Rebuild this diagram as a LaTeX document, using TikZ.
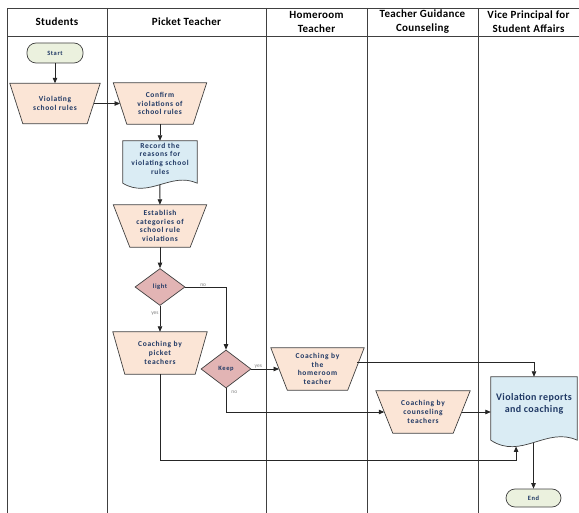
\documentclass[tikz,border=0pt]{standalone}
\usepackage{fontspec}
\setmainfont{Carlito}
\newfontfamily\nodefont[LetterSpace=9]{Carlito}
\newfontfamily\bigfont[LetterSpace=4]{Carlito}
\newfontfamily\hdrfont[LetterSpace=3]{Carlito}
\usetikzlibrary{shapes.geometric,arrows.meta,calc}
\pgfdeclarelayer{bg}
\pgfsetlayers{bg,main}
\definecolor{lane}{RGB}{64,64,64}
\definecolor{navy}{RGB}{31,56,100}
\definecolor{procfill}{RGB}{251,229,214}
\definecolor{docfill}{RGB}{218,236,244}
\definecolor{termfill}{RGB}{235,241,222}
\definecolor{decfill}{RGB}{226,180,180}
\definecolor{lblgray}{RGB}{128,128,128}
\newcommand\drawtrap[2]{%
  \begin{pgfonlayer}{bg}
  \draw[trapshape] ($(#1.north west)+(-#2,0)$) -- ($(#1.north east)+(#2,0)$)
     -- ($(#1.south east)+(-#2,0)$) -- ($(#1.south west)+(#2,0)$) -- cycle;
  \end{pgfonlayer}}
\begin{document}
\begin{tikzpicture}[x=1pt,y=-1pt,
  lanes/.style={draw=lane,line width=0.9pt},
  hdr/.style={font=\hdrfont\fontsize{11}{14}\selectfont\bfseries, align=center, text=black},
  proc/.style={rectangle, draw=none, minimum height=42pt, text=navy,
    font=\nodefont\fontsize{7.5}{8.7}\selectfont\bfseries, align=center, inner sep=0pt},
  trapshape/.style={draw=lane, line width=0.7pt, fill=procfill, line join=miter},
  docbox/.style={rectangle, draw=none, text=navy, font=\nodefont\fontsize{7.5}{8.7}\selectfont\bfseries, align=center, inner sep=0pt},
  docshape/.style={draw=lane, line width=0.7pt, fill=docfill},
  term/.style={rectangle, rounded corners=9pt, minimum width=56pt, minimum height=20pt, draw=lane, line width=0.7pt,
    fill=termfill, text=navy, font=\nodefont\fontsize{6.5}{7}\selectfont\bfseries, inner sep=0pt},
  dec/.style={diamond, minimum width=50pt, minimum height=37pt, inner sep=0pt, draw=lane, line width=0.7pt,
    fill=decfill, text=navy, font=\nodefont\fontsize{6.5}{7}\selectfont\bfseries},
  arr/.style={draw=black!85, line width=0.8pt, -{Triangle[length=5.5pt,width=4.5pt]}},
  lbl/.style={font=\fontsize{5.5}{6}\selectfont, text=lblgray, inner sep=1pt}
]
\useasboundingbox (0,0) rectangle (579,513);
% swimlanes
\draw[lanes] (7,514) -- (7,8) -- (580,8);
\draw[lanes] (7,36) -- (580,36);
\foreach \xx in {107,266,367,478} \draw[lanes] (\xx,8) -- (\xx,514);
\node[hdr] (h1) at (57,22) {Students};
\node[hdr] (h2) at (186.5,22) {Picket Teacher};
\node[hdr] (h3) at (316.5,22) {Homeroom\\Teacher};
\node[hdr] (h4) at (422.5,22) {Teacher Guidance\\Counseling};
\node[hdr] (h5) at (528.5,22) {Vice Principal for\\Student Affairs};
% nodes
\node[term] (start) at (55,53) {Start};
\node[proc, minimum width=77pt, minimum height=40pt] (viol) at (55,103.5) {Violating\\school rules};
\drawtrap{viol}{6.5}
\node[proc, minimum width=79.5pt, minimum height=41pt] (confirm) at (160,103.5) {Confirm\\violations of\\school rules};
\drawtrap{confirm}{6.75}
\node[docbox, minimum width=74pt, minimum height=35pt] (record) at (160,158.5) {Record the\\reasons for\\violating school\\rules};
\begin{pgfonlayer}{bg}
\draw[docshape] (record.north west) -- ($(record.south west)+(0,7)$)
  .. controls ($(record.south west)+(26,23)$) and ($(record.south west)+(48,-5)$) .. ($(record.south east)+(0,7)$)
  coordinate[pos=0.5] (recw) -- (record.north east) -- cycle;
\end{pgfonlayer}
\node[proc, minimum width=76.5pt] (estab) at (160,226) {Establish\\categories of\\school rule\\violations};
\drawtrap{estab}{8.25}
\node[dec] (light) at (160,287) {light};
\node[proc, minimum width=82pt] (picket) at (160,353) {Coaching by\\picket\\teachers};
\drawtrap{picket}{6}
\node[dec, minimum height=38pt] (keep) at (226,369) {Keep};
\node[proc, minimum width=76.5pt] (home) at (317.5,369) {Coaching by\\the\\homeroom\\teacher};
\drawtrap{home}{8.25}
\node[proc, minimum width=77pt] (couns) at (423,412) {Coaching by\\counseling\\teachers};
\drawtrap{couns}{8.5}
\node[docbox, minimum width=86pt, minimum height=54pt, font=\bigfont\fontsize{10}{12}\selectfont\bfseries] (report) at (534,404) {Violation reports\\and coaching};
\begin{pgfonlayer}{bg}
\draw[docshape] (report.north west) -- ($(report.south west)+(0,9)$)
  .. controls ($(report.south west)+(30,29)$) and ($(report.south west)+(56,-5)$) .. ($(report.south east)+(0,9)$)
  coordinate[pos=0.29] (rw1) coordinate[pos=0.49] (rw2) -- (report.north east) -- cycle;
\end{pgfonlayer}
\node[term, minimum width=55pt, minimum height=18pt] (end) at (533.5,498) {End};
\coordinate (lowy) at (0,460);
% connectors
\draw[arr] (start) -- (viol);
\draw[arr] (viol) -- (confirm);
\draw[arr] (confirm) -- (record.north);
\draw[arr] (recw) -- (estab);
\draw[arr] (estab) -- (light);
\draw[arr] (light) -- node[lbl, pos=0.3, left] {yes} (picket);
\draw[arr] (light.east) -| node[lbl, pos=0.22, above, inner sep=0.5pt] {no} (keep.north);
\draw[arr] (keep) -- node[lbl, pos=0.25, above, inner sep=0.5pt] {yes} (home);
\draw[arr] (keep.south) |- node[lbl, pos=0.08, right, xshift=4pt] {no} (couns);
\draw[arr] ($(home.east)+(1.4,-7)$) -| (report.north);
\draw[arr] (couns) -- (couns -| report.west);
\draw[arr] (picket) -- (picket |- lowy) -| (rw1);
\draw[arr] (rw2 -| end) -- (end);
\end{tikzpicture}
\end{document}
